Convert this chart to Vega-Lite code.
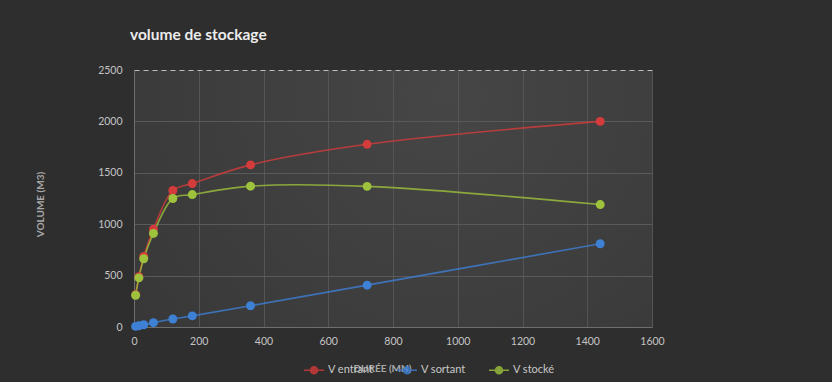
{
  "$schema": "https://vega.github.io/schema/vega-lite/v6.json",
  "autosize": "none",
  "width": 518,
  "height": 257,
  "padding": {"left": 134, "top": 70, "right": 180, "bottom": 55},
  "background": "#2e2e2e",
  "title": {
    "text": "volume de stockage",
    "anchor": "start",
    "frame": "group",
    "dx": -4,
    "offset": 22,
    "font": "Lato",
    "fontSize": 15.5,
    "fontWeight": "bold",
    "color": "#ececec"
  },
  "config": {
    "font": "Lato",
    "view": {
      "stroke": null,
      "fill": {
        "gradient": "radial",
        "x1": 0.6, "y1": 0.3, "r1": 0,
        "x2": 0.6, "y2": 0.3, "r2": 0.95,
        "stops": [
          {"offset": 0, "color": "#464646"},
          {"offset": 1, "color": "#343434"}
        ]
      }
    },
    "axis": {
      "labelFont": "Lato",
      "labelFontSize": 10.5,
      "labelColor": "#c4c4c4",
      "labelFlush": false,
      "labelOverlap": false,
      "titleFont": "Lato",
      "titleFontSize": 10,
      "titleFontWeight": "bold",
      "titleColor": "#a8a8a8",
      "ticks": false,
      "gridColor": "#5a5a5a",
      "gridWidth": 1,
      "domainColor": "#6e6e6e"
    }
  },
  "data": {
    "values": [
      {"duree": 5, "serie": "V entrant", "volume": 315},
      {"duree": 15, "serie": "V entrant", "volume": 490},
      {"duree": 30, "serie": "V entrant", "volume": 686},
      {"duree": 60, "serie": "V entrant", "volume": 950},
      {"duree": 120, "serie": "V entrant", "volume": 1328},
      {"duree": 180, "serie": "V entrant", "volume": 1395},
      {"duree": 360, "serie": "V entrant", "volume": 1577},
      {"duree": 720, "serie": "V entrant", "volume": 1777},
      {"duree": 1440, "serie": "V entrant", "volume": 2000},
      {"duree": 5, "serie": "V sortant", "volume": 6},
      {"duree": 15, "serie": "V sortant", "volume": 12},
      {"duree": 30, "serie": "V sortant", "volume": 22},
      {"duree": 60, "serie": "V sortant", "volume": 42},
      {"duree": 120, "serie": "V sortant", "volume": 78},
      {"duree": 180, "serie": "V sortant", "volume": 108},
      {"duree": 360, "serie": "V sortant", "volume": 207},
      {"duree": 720, "serie": "V sortant", "volume": 407},
      {"duree": 1440, "serie": "V sortant", "volume": 810},
      {"duree": 5, "serie": "V stocké", "volume": 309},
      {"duree": 15, "serie": "V stocké", "volume": 478},
      {"duree": 30, "serie": "V stocké", "volume": 664},
      {"duree": 60, "serie": "V stocké", "volume": 910},
      {"duree": 120, "serie": "V stocké", "volume": 1250},
      {"duree": 180, "serie": "V stocké", "volume": 1288},
      {"duree": 360, "serie": "V stocké", "volume": 1370},
      {"duree": 720, "serie": "V stocké", "volume": 1368},
      {"duree": 1440, "serie": "V stocké", "volume": 1191}
    ]
  },
  "encoding": {
    "x": {
      "field": "duree",
      "type": "quantitative",
      "scale": {"domain": [0, 1600], "nice": false},
      "axis": {
        "title": "DURÉE (MN)",
        "format": "d",
        "values": [0, 200, 400, 600, 800, 1000, 1200, 1400, 1600],
        "labelPadding": 9,
        "titleX": 248,
        "titleY": 41,
        "titleBaseline": "middle",
        "gridColor": "#555555"
      }
    },
    "y": {
      "field": "volume",
      "type": "quantitative",
      "scale": {"domain": [0, 2500], "nice": false},
      "axis": {
        "title": "VOLUME (M3)",
        "format": "d",
        "values": [0, 500, 1000, 1500, 2000, 2500],
        "labelPadding": 12,
        "titleX": -94,
        "titleY": 134,
        "titleAngle": -90,
        "titleBaseline": "middle",
        "gridDash": {"condition": {"test": "datum.value === 2500", "value": [5, 4]}, "value": []},
        "gridColor": {"condition": {"test": "datum.value === 2500", "value": "#bdbdbd"}, "value": "#5a5a5a"}
      }
    },
    "color": {
      "field": "serie",
      "type": "nominal",
      "scale": {
        "domain": ["V entrant", "V sortant", "V stocké"],
        "range": ["#d43b3b", "#3d80d4", "#9ec23c"]
      },
      "legend": {
        "title": null,
        "orient": "none",
        "direction": "horizontal",
        "legendX": 169,
        "legendY": 289,
        "padding": 0,
        "columnPadding": 20,
        "symbolType": "M-1,0L1,0M-0.35,0A0.35,0.35,0,1,0,0.35,0A0.35,0.35,0,1,0,-0.35,0Z",
        "symbolSize": 400,
        "symbolStrokeWidth": 1.5,
        "labelOffset": 3,
        "labelFont": "Lato",
        "labelFontSize": 11,
        "labelColor": "#c8c8c8",
        "encode": {
          "symbols": {
            "update": {
              "fill": {"scale": "color", "field": "value"},
              "stroke": {"scale": "color", "field": "value"},
              "opacity": {"value": 1}
            }
          }
        }
      }
    }
  },
  "layer": [
    {
      "mark": {"type": "line", "interpolate": "catmull-rom", "strokeWidth": 1.6, "opacity": 0.8}
    },
    {
      "mark": {"type": "point", "filled": true, "size": 80, "opacity": 1}
    }
  ]
}
